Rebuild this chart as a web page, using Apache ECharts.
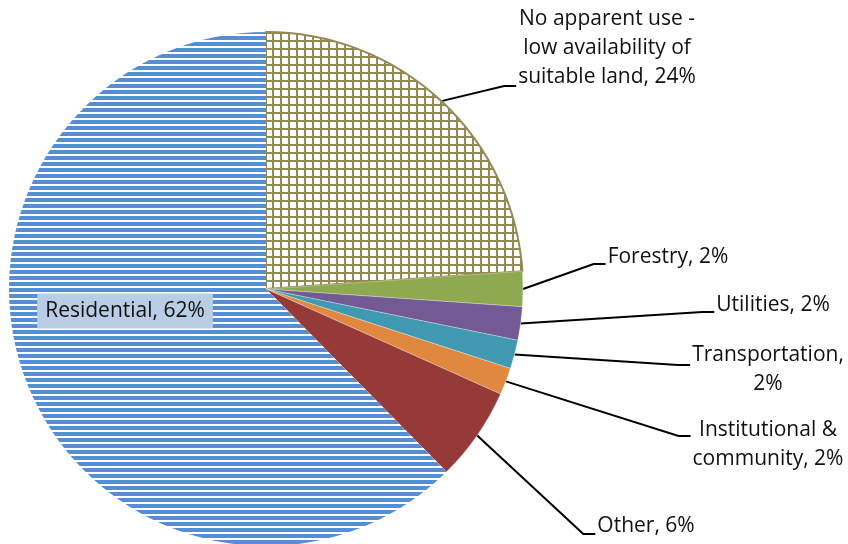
<!DOCTYPE html>
<html><head><meta charset="utf-8">
<script src="https://cdn.jsdelivr.net/npm/echarts@6/dist/echarts.min.js"></script>
<style>html,body{margin:0;padding:0;background:#fff}#c{width:848px;height:544px}</style>
</head><body><div id="c"></div>
<script>
// ---- data ----
const categories = [
  'No apparent use -\nlow availability of\nsuitable land',
  'Forestry',
  'Utilities',
  'Transportation',
  'Institutional &\ncommunity',
  'Other',
  'Residential'
];
const shares = [23.9, 2.2, 2.1, 1.8, 1.7, 5.9, 62.4];

// ---- styles ----
const palette = ['#948A54', '#8EA94F', '#735A94', '#3F9AB1', '#E0883F', '#963A37', '#558ED5'];

function stripePattern() {
  const c = document.createElement('canvas');
  c.width = 6; c.height = 6;
  const g = c.getContext('2d');
  g.fillStyle = '#fff'; g.fillRect(0, 0, 6, 6);
  g.fillStyle = '#558ED5'; g.fillRect(0, 0, 6, 4);
  return c;
}
function gridPattern() {
  const c = document.createElement('canvas');
  c.width = 8; c.height = 8;
  const g = c.getContext('2d');
  g.fillStyle = '#fff'; g.fillRect(0, 0, 8, 8);
  g.fillStyle = '#948A54';
  g.fillRect(0, 0, 2, 8);
  g.fillRect(0, 0, 8, 2);
  return c;
}

const labelAnchors = [[607, 48], [668, 257], [773, 305], [768, 370], [768, 445], [646, 526], [125, 311]];
const leaderY = [86, 264, 312, 365, 436, 534];

const seriesData = categories.map((name, i) => {
  const item = { name: name, value: shares[i] };
  if (i === 0) {
    item.itemStyle = { color: { image: gridPattern(), repeat: 'repeat' }, borderColor: '#948A54', borderWidth: 2 };
  } else if (i === categories.length - 1) {
    item.itemStyle = { color: { image: stripePattern(), repeat: 'repeat' }, borderWidth: 0 };
    item.label = { position: 'inside', backgroundColor: '#B9CDE5', padding: [6, 8, 6, 8], lineHeight: 23 };
    item.labelLine = { show: false };
  } else {
    item.itemStyle = { color: palette[i], borderColor: 'rgba(255,255,255,0.5)', borderWidth: 0.6 };
  }
  return item;
});

const chart = echarts.init(document.getElementById('c'), null, { renderer: 'canvas' });
chart.setOption({
  animation: false,
  backgroundColor: '#fff',
  series: [{
    type: 'pie',
    center: [266, 289],
    radius: 257,
    startAngle: 90,
    clockwise: true,
    percentPrecision: 0,
    avoidLabelOverlap: false,
    data: seriesData,
    label: {
      show: true,
      position: 'outside',
      color: '#111',
      fontFamily: 'Open Sans',
      fontSize: 21,
      lineHeight: 29,
      align: 'center',
      formatter: function (p) {
        const sep = p.dataIndex === 3 ? ',\n' : ', ';
        return p.name + sep + Math.round(p.percent) + '%';
      }
    },
    labelLine: {
      show: true,
      length: 20,
      length2: 10,
      lineStyle: { color: '#000', width: 2 }
    },
    labelLayout: function (params) {
      const i = params.dataIndex;
      const a = labelAnchors[i];
      const res = { x: a[0], y: a[1], align: 'center', verticalAlign: 'middle' };
      if (i < leaderY.length && params.labelLinePoints) {
        const left = a[0] - params.labelRect.width / 2;
        const start = params.labelLinePoints[0];
        res.labelLinePoints = [
          [start[0], start[1]],
          [left - 14, leaderY[i]],
          [left - 2, leaderY[i]]
        ];
      }
      return res;
    }
  }]
});
</script>
</body></html>
